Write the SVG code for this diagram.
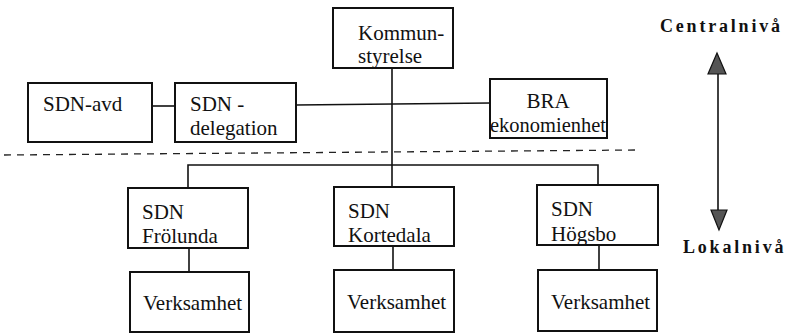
<svg xmlns="http://www.w3.org/2000/svg" width="788" height="333" viewBox="0 0 788 333">
<style>
.box{fill:#fff;stroke:#111;stroke-width:2}
.c{fill:none;stroke:#111;stroke-width:1.6}
.dash{fill:none;stroke:#222;stroke-width:1.3;stroke-dasharray:7 6}
.head{fill:#555;stroke:#111;stroke-width:1.2}
</style>
<rect width="788" height="333" fill="#fff"/>
<g id="connectors">
<line class="c" x1="392" y1="68" x2="392" y2="165"/>
<line class="c" x1="152" y1="106" x2="175" y2="106"/>
<line class="c" x1="296" y1="105" x2="490" y2="103"/>
<polyline class="c" points="188,188 188,165 598,165 598,185"/>
<line class="c" x1="392" y1="165" x2="392" y2="187"/>
<line class="c" x1="189" y1="248" x2="189" y2="272"/>
<line class="c" x1="393" y1="246" x2="393" y2="270"/>
<line class="c" x1="599" y1="245" x2="599" y2="270"/>
<line class="dash" x1="4" y1="155" x2="637" y2="150"/>
<line class="c" x1="718" y1="72" x2="718" y2="212"/>
<polygon class="head" points="717,53 708,74 726,74"/>
<polygon class="head" points="719,230 711,210 727,210"/>
</g>
<g font-family="Liberation Serif" font-size="21" fill="#111">
<g id="kommunstyrelse">
<rect class="box" x="333" y="8" width="120" height="60"/>
<text x="358" y="40">Kommun-</text>
<text x="358" y="63">styrelse</text>
</g>
<g id="sdn-avd">
<rect class="box" x="28" y="83" width="124" height="59"/>
<text x="43" y="111">SDN-avd</text>
</g>
<g id="sdn-delegation">
<rect class="box" x="175" y="83" width="121" height="59"/>
<text x="190" y="111">SDN -</text>
<text x="190" y="135">delegation</text>
</g>
<g id="bra">
<rect class="box" x="490" y="79" width="117" height="59"/>
<text x="548" y="108" text-anchor="middle">BRA</text>
<text x="490" y="132" textLength="116" lengthAdjust="spacingAndGlyphs">ekonomienhet</text>
</g>
<g id="sdn-frolunda">
<rect class="box" x="128" y="188" width="120" height="60"/>
<text x="142" y="219">SDN</text>
<text x="142" y="243">Frölunda</text>
</g>
<g id="verksamhet-1">
<rect class="box" x="130" y="272" width="119" height="60"/>
<text x="143" y="310">Verksamhet</text>
</g>
<g id="sdn-kortedala">
<rect class="box" x="334" y="187" width="120" height="59"/>
<text x="348" y="218">SDN</text>
<text x="348" y="242">Kortedala</text>
</g>
<g id="verksamhet-2">
<rect class="box" x="334" y="270" width="120" height="62"/>
<text x="347" y="309">Verksamhet</text>
</g>
<g id="sdn-hogsbo">
<rect class="box" x="537" y="185" width="121" height="60"/>
<text x="551" y="216">SDN</text>
<text x="551" y="241">Högsbo</text>
</g>
<g id="verksamhet-3">
<rect class="box" x="538" y="270" width="119" height="61"/>
<text x="551" y="309">Verksamhet</text>
</g>
<g id="levels" font-size="18" font-weight="bold" letter-spacing="2.8">
<text x="660" y="32">Centralnivå</text>
<text x="683" y="253">Lokalnivå</text>
</g>
</g>
</svg>
